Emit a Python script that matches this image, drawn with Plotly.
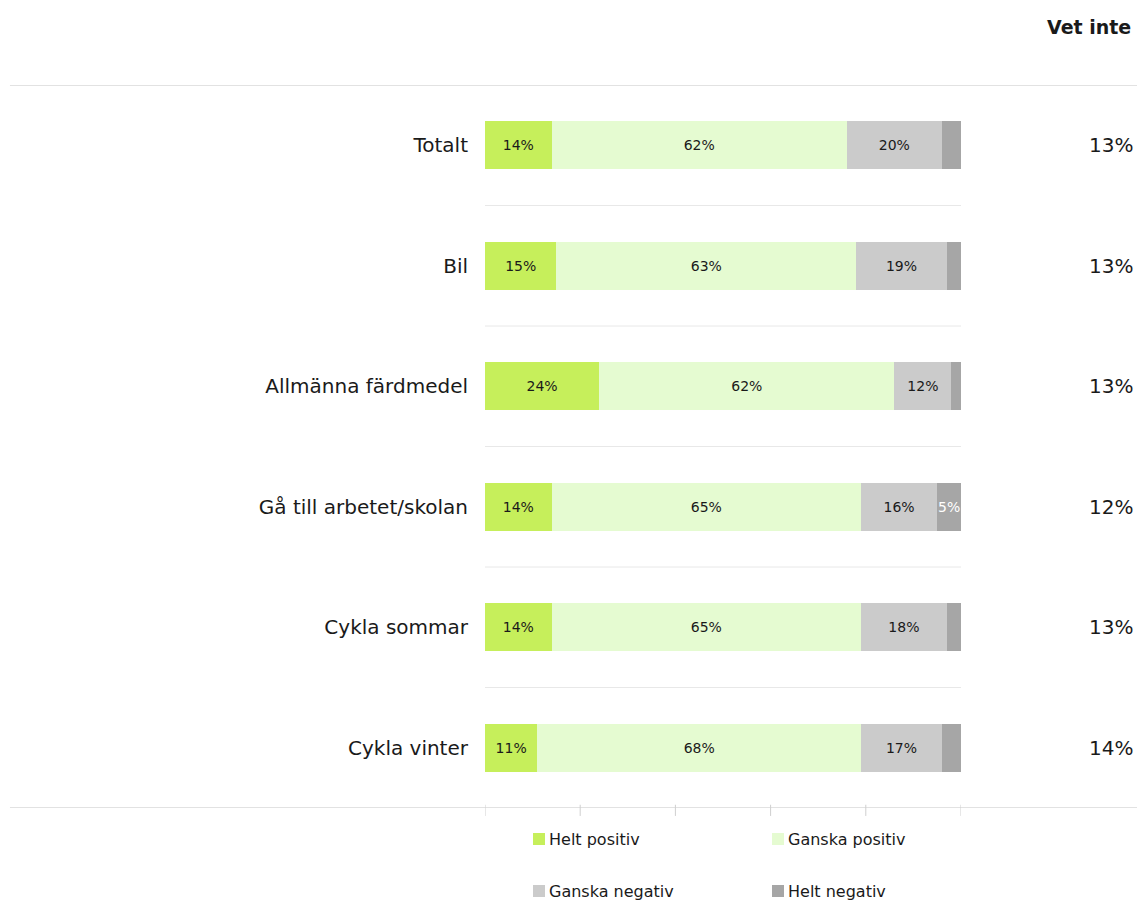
import plotly.graph_objects as go

categories = ["Totalt", "Bil", "Allmänna färdmedel", "Gå till arbetet/skolan", "Cykla sommar", "Cykla vinter"]
series_names = ["Helt positiv", "Ganska positiv", "Ganska negativ", "Helt negativ"]
helt_positiv = [14, 15, 24, 14, 14, 11]
ganska_positiv = [62, 63, 62, 65, 65, 68]
ganska_negativ = [20, 19, 12, 16, 18, 17]
helt_negativ = [4, 3, 3, 5, 3, 4]
vet_inte = [13, 13, 13, 12, 13, 14]
x_ticks = [0, 20, 40, 60, 80, 100]

colors = ["#c6ef5b", "#e5fbd1", "#cbcbcb", "#a6a6a6"]
text_colors = ["#1a1a1a", "#1a1a1a", "#1a1a1a", "#ffffff"]
FONT = "DejaVu Sans"

fig = go.Figure()
for name, vals, col, tcol in zip(series_names,
                                 [helt_positiv, ganska_positiv, ganska_negativ, helt_negativ],
                                 colors, text_colors):
    fig.add_trace(go.Bar(
        y=categories, x=vals, orientation="h", name=name,
        marker=dict(color=col, line=dict(width=0)),
        text=[f"{v}%" if v >= 5 else "" for v in vals],
        textposition="inside", insidetextanchor="middle", textangle=0,
        constraintext="none",
        textfont=dict(family=FONT, size=14, color=tcol),
        hoverinfo="skip", showlegend=False,
    ))

# the page body adds an 8 px offset, so the figure is 8 px smaller and margins shifted
fig.update_layout(
    barmode="stack",
    bargap=0.6,
    width=1137, height=894,
    margin=dict(l=477, r=184, t=77, b=94, autoexpand=False),
    paper_bgcolor="white", plot_bgcolor="white",
    font=dict(family=FONT, color="#1a1a1a"),
    showlegend=False,
    xaxis=dict(range=[0, 100], showgrid=False, zeroline=False, showticklabels=False,
               showline=False, fixedrange=True),
    yaxis=dict(categoryorder="array", categoryarray=categories, autorange=False,
               range=[5.5, -0.5], showgrid=False, zeroline=False,
               tickfont=dict(family=FONT, size=20, color="#1a1a1a"),
               ticks="", ticklabelstandoff=16),
)

shapes = []
line_col = "#e2e2e2"
# full-width top and bottom separators
for yv in [-0.5, 5.5]:
    shapes.append(dict(type="line", xref="paper", yref="y", x0=-0.998, x1=1.39,
                       y0=yv, y1=yv, line=dict(color=line_col, width=2)))
# separators between rows
for i in range(len(categories) - 1):
    shapes.append(dict(type="line", xref="x", yref="y", x0=0, x1=100,
                       y0=i + 0.5, y1=i + 0.5, line=dict(color="#e8e8e8", width=1)))
# tick marks on bottom axis (crossing the baseline)
for t in x_ticks:
    shapes.append(dict(type="line", xref="x", yref="paper", x0=t, x1=t,
                       y0=0.0045, y1=-0.011, line=dict(color="#cfcfcf", width=1)))

annotations = [dict(text="<b>Vet inte</b>", xref="paper", yref="paper", x=1.3613, y=1.0,
                    xanchor="right", yanchor="middle", yshift=58, showarrow=False,
                    font=dict(family=FONT, size=19, color="#1a1a1a"))]
for cat, v in zip(categories, vet_inte):
    annotations.append(dict(text=f"{v}%", xref="paper", yref="y", x=1.3655, y=cat,
                            xanchor="right", yanchor="middle", showarrow=False,
                            font=dict(family=FONT, size=20, color="#1a1a1a")))

# manual legend (2 x 2 grid)
legend_cols = [0.1008, 0.6029]   # square left edges (paper)
legend_rows = [-0.0429, -0.1148]  # row centers (paper)
sq_w = 12 / 476
sq_h = 12 / 723
for idx, (name, col) in enumerate(zip(series_names, colors)):
    lx = legend_cols[idx % 2]
    ly = legend_rows[idx // 2]
    shapes.append(dict(type="rect", xref="paper", yref="paper",
                       x0=lx, x1=lx + sq_w, y0=ly - sq_h / 2, y1=ly + sq_h / 2,
                       fillcolor=col, line=dict(width=0)))
    annotations.append(dict(text=name, xref="paper", yref="paper", x=lx + sq_w, y=ly,
                            xanchor="left", yanchor="middle", xshift=2, showarrow=False,
                            font=dict(family=FONT, size=16, color="#1a1a1a")))

fig.update_layout(shapes=shapes, annotations=annotations)

fig.write_html("out.html")
